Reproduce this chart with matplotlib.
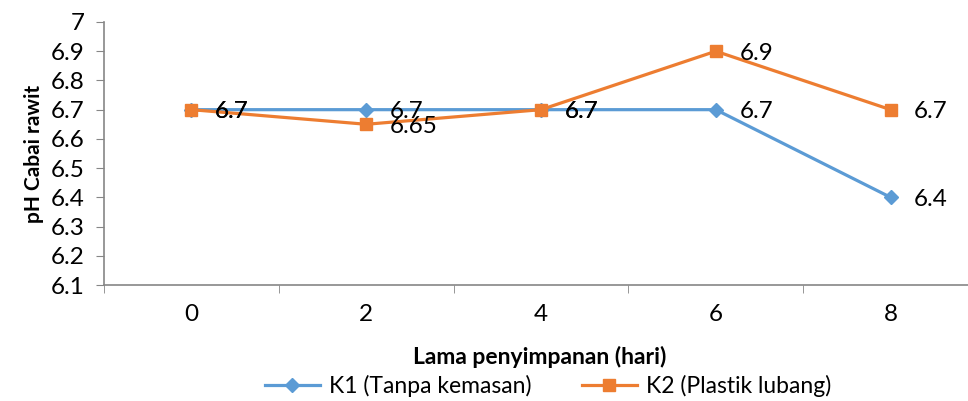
import matplotlib
matplotlib.use("Agg")
import matplotlib.pyplot as plt
import numpy as np

plt.rcParams['font.family'] = ['Lato', 'DejaVu Sans']

hari = ["0", "2", "4", "6", "8"]
k1 = [6.7, 6.7, 6.7, 6.7, 6.4]
k2 = [6.7, 6.65, 6.7, 6.9, 6.7]
yticks = [6.1, 6.2, 6.3, 6.4, 6.5, 6.6, 6.7, 6.8, 6.9, 7.0]

biru = "#5B9BD5"
oranye = "#ED7D31"
abu = "#868686"

fig = plt.figure(figsize=(9.68, 4.01), dpi=100)
ax = fig.add_axes([104 / 968, 1 - 285 / 401, 874 / 968, 263 / 401])

x = np.arange(len(hari))
ax.plot(x, k1, color=biru, lw=2.3, marker="D", ms=7, label="K1 (Tanpa kemasan)")
ax.plot(x, k2, color=oranye, lw=2.3, marker="s", ms=9, label="K2 (Plastik lubang)")

# label data di kanan titik
for seri in (k1, k2):
    for xi, v in zip(x, seri):
        ax.annotate(f"{v:g}", (xi, v), xytext=(17, -1.5), textcoords="offset points",
                    va="center", ha="left", fontsize=17.5)

ax.set_xlim(-0.5, 4.5)
ax.set_ylim(6.1, 7.0)
ax.set_yticks(yticks)
ax.set_yticklabels([f"{t:g}" for t in yticks], fontsize=17.5)
ax.set_xticks(x)
ax.set_xticklabels(hari, fontsize=17.5)
ax.set_xticks(np.arange(-0.5, 4.6, 1), minor=True)
ax.tick_params(axis="x", which="major", length=0, pad=14)
ax.tick_params(axis="x", which="minor", length=6, color=abu, direction="out")
ax.tick_params(axis="y", length=6, color=abu, direction="out", pad=8)

for s in ["top", "right"]:
    ax.spines[s].set_visible(False)
for s in ["left", "bottom"]:
    ax.spines[s].set_color(abu)
    ax.spines[s].set_linewidth(1.2)

ax.set_ylabel("pH Cabai rawit", fontsize=15, fontweight="bold", labelpad=5)
fig.text(540 / 968, 1 - 357 / 401, "Lama penyimpanan (hari)", ha="center", va="center",
         fontsize=16.5, fontweight="bold")

fig.legend(loc="center", bbox_to_anchor=(548 / 968, 1 - 386 / 401), ncol=2, frameon=False,
           fontsize=16.5, handlelength=2.4, columnspacing=2.2, handletextpad=0.4,
           borderaxespad=0)

fig.savefig("out.png", dpi=100)
